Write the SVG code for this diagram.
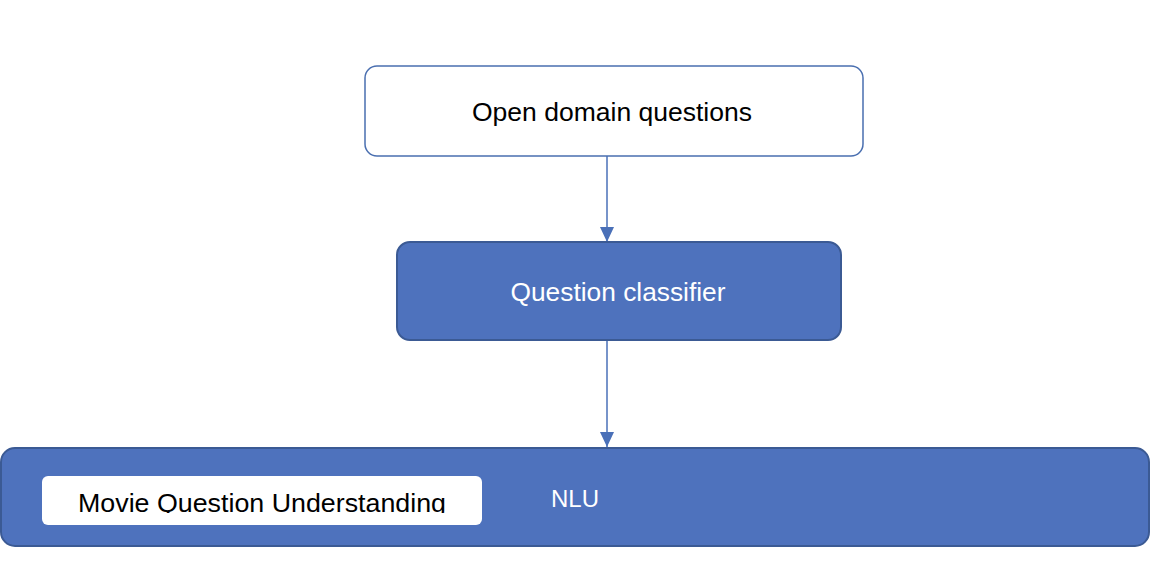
<svg xmlns="http://www.w3.org/2000/svg" width="1160" height="586" viewBox="0 0 1160 586">
<style>
.blue{fill:#4e72bd;stroke:#3b5a94;stroke-width:2}
.white{fill:#ffffff;stroke:#4a6fb0;stroke-width:1.5}
.t{font-family:"Liberation Sans",Arial,sans-serif;font-size:25px}
.conn{stroke:#4a70b8;stroke-width:1.5;fill:none}
</style>
<defs>
<marker id="ah2" markerWidth="16" markerHeight="14" refX="15" refY="7" orient="auto" markerUnits="userSpaceOnUse" viewBox="0 0 16 14">
<path d="M0,0 L15,7 L0,14 Z" fill="#4a70b8"/>
</marker>
<clipPath id="mclip"><rect x="42" y="476" width="440" height="37"/></clipPath>
</defs>
<rect width="1160" height="586" fill="#ffffff"/>
<g id="connectors">
<line class="conn" x1="607" y1="156" x2="607" y2="242" marker-end="url(#ah2)"/>
<line class="conn" x1="607" y1="340" x2="607" y2="447" marker-end="url(#ah2)"/>
</g>
<g id="open-domain">
<rect class="white" x="365" y="66" width="498" height="90" rx="12"/>
<text class="t" x="612" y="121" text-anchor="middle" fill="#000" textLength="280" lengthAdjust="spacingAndGlyphs">Open domain questions</text>
</g>
<g id="question-classifier">
<rect class="blue" x="397" y="242" width="444" height="98" rx="13"/>
<text class="t" x="618" y="301" text-anchor="middle" fill="#fff" textLength="215" lengthAdjust="spacingAndGlyphs">Question classifier</text>
</g>
<g id="nlu">
<rect class="blue" x="1" y="448" width="1148" height="98" rx="14"/>
<text class="t" x="575" y="507" text-anchor="middle" fill="#fff" style="font-size:23px" textLength="48" lengthAdjust="spacingAndGlyphs">NLU</text>
</g>
<g id="movie-question-understanding">
<rect x="42" y="476" width="440" height="49" rx="6" fill="#ffffff"/>
<text class="t" x="262" y="512" text-anchor="middle" fill="#000" clip-path="url(#mclip)" textLength="368" lengthAdjust="spacingAndGlyphs">Movie Question Understanding</text>
</g>
</svg>
